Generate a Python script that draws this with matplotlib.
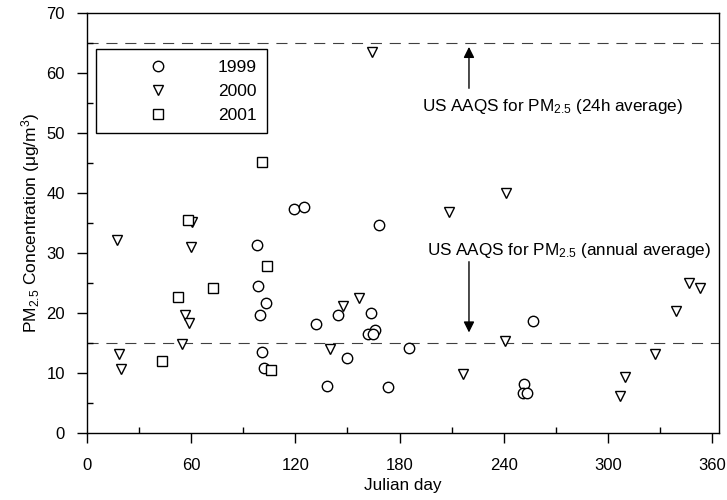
import matplotlib
matplotlib.use("Agg")
import matplotlib.pyplot as plt
from matplotlib.ticker import MultipleLocator

plt.rcParams['font.family'] = ['Liberation Sans', 'DejaVu Sans']
plt.rcParams['mathtext.fontset'] = 'custom'
plt.rcParams['mathtext.rm'] = 'Liberation Sans'
plt.rcParams['mathtext.it'] = 'Liberation Sans:italic'
plt.rcParams['mathtext.bf'] = 'Liberation Sans:bold'

# PM2.5 concentrations (ug/m3) by Julian day
day_1999 = [97.8, 98.7, 102.9, 99.7, 101.0, 102.1, 119.2, 125.0, 168.2, 144.8,
            131.9, 163.4, 165.9, 162.0, 164.6, 149.9, 185.5, 138.1, 173.6, 256.9,
            251.7, 251.0, 253.3]
pm_1999 = [31.4, 24.5, 21.8, 19.7, 13.6, 10.9, 37.4, 37.7, 34.7, 19.8,
           18.2, 20.1, 17.3, 16.5, 16.5, 12.5, 14.3, 7.9, 7.8, 18.7,
           8.2, 6.7, 6.7]

day_2000 = [17.1, 60.7, 59.7, 56.5, 58.8, 54.9, 18.6, 19.6, 208.4, 241.2,
            156.5, 147.6, 140.0, 216.8, 240.8, 307.0, 309.9, 327.4, 339.1, 346.9,
            353.1, 164.0]
pm_2000 = [32.2, 35.3, 31.1, 19.8, 18.4, 14.9, 13.2, 10.8, 36.9, 40.0,
           22.6, 21.3, 14.0, 9.9, 15.4, 6.2, 9.4, 13.3, 20.4, 25.0,
           24.3, 63.5]

day_2001 = [58.4, 103.9, 72.8, 52.6, 43.0, 106.0, 101.0]
pm_2001 = [35.5, 27.9, 24.3, 22.8, 12.0, 10.6, 45.2]

# US ambient air quality standards for PM2.5
aaqs_24h = 65
aaqs_annual = 15

fig = plt.figure(figsize=(7.27, 5.0), dpi=100)
ax = fig.add_axes([87 / 727, 1 - 433.3 / 500, 632 / 727, 420 / 500])

mk = dict(linestyle='none', markerfacecolor='white', markeredgecolor='black',
          markeredgewidth=1.0)
ax.plot(day_1999, pm_1999, marker='o', markersize=7.5, label='1999', **mk)
ax.plot(day_2000, pm_2000, marker='v', markersize=7, label='2000', **mk)
ax.plot(day_2001, pm_2001, marker='s', markersize=7.5, label='2001', **mk)

for level in (aaqs_24h, aaqs_annual):
    ax.axhline(level, color='0.25', lw=0.8, dashes=(10, 7), zorder=1)

fs_note = 12.3
ax.annotate('', xy=(220, aaqs_24h - 0.6), xytext=(220, 57.5),
            arrowprops=dict(arrowstyle='-|>', color='black', lw=1.0,
                            mutation_scale=16, shrinkA=0, shrinkB=0))
ax.text(268, 54.5, r'US AAQS for PM$_{\mathrm{2.5}}$ (24h average)',
        ha='center', va='center', fontsize=fs_note)

ax.annotate('', xy=(220, aaqs_annual + 1.8), xytext=(220, 28.6),
            arrowprops=dict(arrowstyle='-|>', color='black', lw=1.0,
                            mutation_scale=16, shrinkA=0, shrinkB=0))
ax.text(277.5, 30.5, r'US AAQS for PM$_{\mathrm{2.5}}$ (annual average)',
        ha='center', va='center', fontsize=fs_note)

ax.set_xlim(0, 364)
ax.set_ylim(0, 70)
ax.xaxis.set_major_locator(MultipleLocator(60))
ax.xaxis.set_minor_locator(MultipleLocator(30))
ax.yaxis.set_major_locator(MultipleLocator(10))
ax.yaxis.set_minor_locator(MultipleLocator(5))
ax.tick_params(which='major', direction='out', length=7, width=1,
               labelsize=12, color='black', pad=9)
ax.tick_params(axis='x', which='major', pad=10.5)
ax.tick_params(which='minor', direction='in', length=4, width=1)
for sp in ax.spines.values():
    sp.set_linewidth(1.0)
    sp.set_color('black')

ax.set_xlabel('Julian day', fontsize=12.3, labelpad=4)
ax.set_ylabel(r'PM$_{\mathrm{2.5}}$ Concentration ($\mathrm{\mu}$g/m$^{\mathrm{3}}$)',
              fontsize=12.5, labelpad=3)

leg = ax.legend(loc='upper left', bbox_to_anchor=(0.0142, 0.914), borderaxespad=0,
                fontsize=12.5, frameon=True, fancybox=False, edgecolor='black',
                framealpha=1, handlelength=5.9, handletextpad=0.52,
                borderpad=0.6, labelspacing=0.5)
leg.get_frame().set_linewidth(1.0)

fig.savefig('out.png', dpi=100)
